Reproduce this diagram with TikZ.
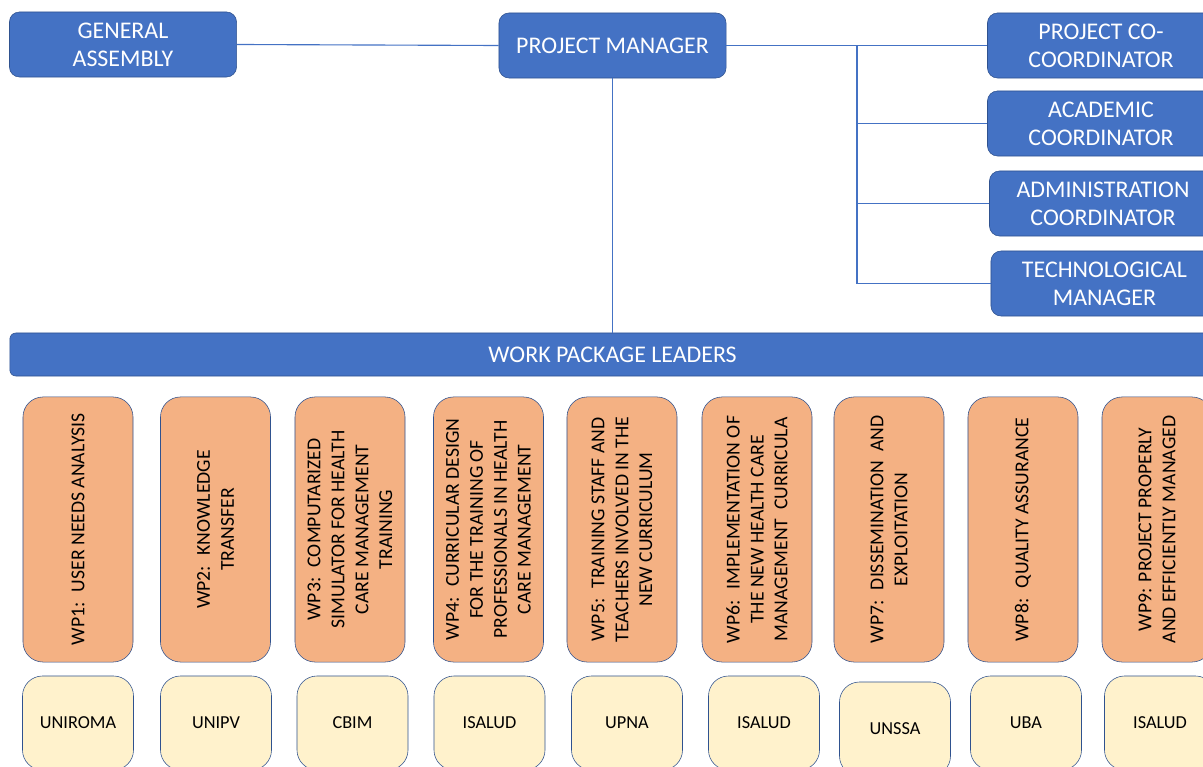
\documentclass[tikz,border=0pt]{standalone}
\usepackage{fontspec}
\setmainfont{Carlito}
\usepackage{xcolor}
\usepackage{tikz}
\usetikzlibrary{positioning}
\usetikzlibrary{calc}

\definecolor{boxblue}{HTML}{4472C4}
\definecolor{edgeblue}{HTML}{2F528F}
\definecolor{wporange}{HTML}{F4B183}
\definecolor{partneryellow}{HTML}{FFF2CC}

\begin{document}
\begin{tikzpicture}
  [
    x=0.025cm, y=-0.025cm,
    mgr/.style={draw=edgeblue, fill=boxblue, text=white, rounded corners=0.25cm,
      minimum width=5.675cm, minimum height=1.625cm, align=center, inner sep=1mm,
      font=\fontsize{17pt}{20pt}\selectfont},
    wp/.style={draw=edgeblue, fill=wporange, rounded corners=0.5cm, rotate=90,
      minimum width=6.625cm, minimum height=2.75cm, align=center, inner sep=1mm,
      font=\fontsize{14pt}{17pt}\selectfont},
    partner/.style={draw=edgeblue, fill=partneryellow, rounded corners=0.5cm,
      minimum width=2.775cm, minimum height=2.35cm, inner sep=1mm,
      font=\fontsize{13pt}{15pt}\selectfont},
    link/.style={draw=boxblue, line width=0.8pt}
  ]
  \useasboundingbox (0,0) rectangle (1203,767);
  \clip (0,0) rectangle (1203,767);

  \node (ga)  at (123,44.5)    [mgr] {GENERAL\\ASSEMBLY};
  \node (pm)  at (612.5,45.5)  [mgr] {PROJECT MANAGER};
  \node (pc)  at (1101,45.5)   [mgr] {PROJECT CO-\\COORDINATOR};
  \node (ac)  at (1101,123.5)  [mgr] {ACADEMIC\\COORDINATOR};
  \node (adm) at (1103,203.5)  [mgr] {ADMINISTRATION\\COORDINATOR};
  \node (tm)  at (1104.5,283.5)[mgr] {TECHNOLOGICAL\\MANAGER};

  \node (wpl) at (612.5,354.5) [mgr, minimum width=30.125cm, minimum height=1.075cm,
    rounded corners=0.15cm] {WORK PACKAGE LEADERS};

  \node (wp1) at (78,529.5)   [wp] {WP1:~ USER NEEDS ANALYSIS};
  \node (wp2) at (215.5,529.5)[wp] {WP2:~ KNOWLEDGE\\TRANSFER};
  \node (wp3) at (350,529.5)  [wp] {WP3:~ COMPUTARIZED\\SIMULATOR FOR HEALTH\\CARE MANAGEMENT\\TRAINING};
  \node (wp4) at (488.5,529.5)[wp] {WP4:~ CURRICULAR DESIGN\\FOR THE TRAINING OF\\PROFESSIONALS IN HEALTH\\CARE MANAGEMENT};
  \node (wp5) at (622,529.5)  [wp] {WP5:~ TRAINING STAFF AND\\TEACHERS INVOLVED IN THE\\NEW CURRICULUM};
  \node (wp6) at (757,529.5)  [wp] {WP6:~ IMPLEMENTATION OF\\THE NEW HEALTH CARE\\MANAGEMENT~ CURRICULA};
  \node (wp7) at (889,529.5)  [wp] {WP7:~ DISSEMINATION~ AND\\EXPLOITATION};
  \node (wp8) at (1023,529.5) [wp] {WP8:~ QUALITY ASSURANCE};
  \node (wp9) at (1157,529.5) [wp] {WP9: PROJECT PROPERLY\\AND EFFICIENTLY MANAGED};

  \node (p1) at (78,723)    [partner] {UNIROMA};
  \node (p2) at (216,723)   [partner] {UNIPV};
  \node (p3) at (352.5,723) [partner] {CBIM};
  \node (p4) at (489.5,723) [partner] {ISALUD};
  \node (p5) at (627,723)   [partner] {UPNA};
  \node (p6) at (764,723)   [partner] {ISALUD};
  \node (p7) at (895,729)   [partner] {UNSSA};
  \node (p8) at (1026,723)  [partner] {UBA};
  \node (p9) at (1160,723)  [partner] {ISALUD};

  \coordinate (tap) at (857,45.5);

  \draw [link] (ga.east) -- (pm.west);
  \draw [link] (pm.east) -- (pc.west);
  \draw [link] (tap) |- (ac.west);
  \draw [link] (tap) |- (adm.west);
  \draw [link] (tap) |- (tm.west);
  \draw [link] (pm.south) -- (wpl.north);
\end{tikzpicture}
\end{document}
